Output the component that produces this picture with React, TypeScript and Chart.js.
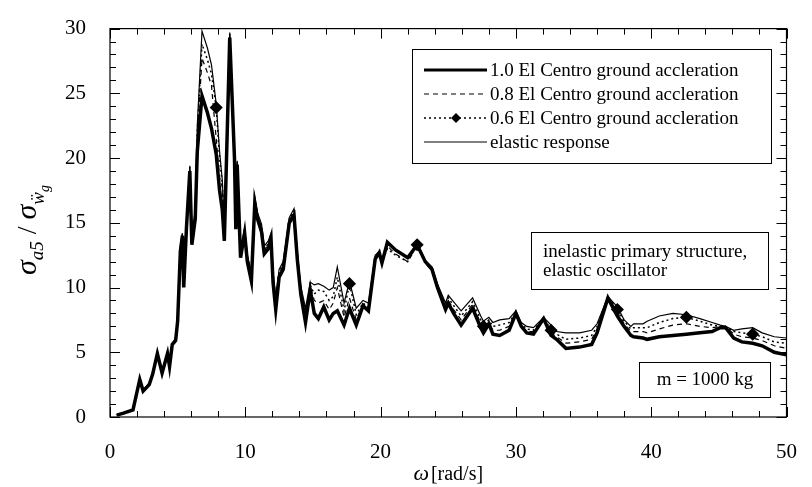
import React, { useEffect, useRef } from "react";
import { Chart, registerables } from "chart.js";

Chart.register(...registerables);

const OMEGA = [
  0.5, 1.0, 1.7, 2.2, 2.45, 2.9, 3.15, 3.5, 3.85, 4.25, 4.4, 4.6, 4.85, 5.0, 5.2, 5.35, 5.45, 5.65, 5.9, 6.05,
  6.3, 6.45, 6.8, 7.2, 7.5, 7.85, 8.1, 8.3, 8.45, 8.85, 9.2, 9.3, 9.4, 9.65, 9.95, 10.15, 10.45, 10.7, 10.9, 11.2,
  11.4, 11.7, 11.9, 12.05, 12.25, 12.5, 12.8, 13.25, 13.6, 13.85, 14.1, 14.45, 14.8, 15.1, 15.4, 15.8, 16.2, 16.5, 16.8, 17.3,
  17.7, 18.2, 18.7, 19.1, 19.6, 19.9, 20.1, 20.5, 21.1, 22.0, 22.7, 23.3, 23.8, 24.2, 24.8, 25.0, 25.4, 25.95, 26.8, 27.4,
  27.6, 28.0, 28.3, 28.8, 29.5, 30.0, 30.4, 30.8, 31.3, 32.05, 32.6, 33.0, 33.7, 34.7, 35.6, 36.0, 36.8, 37.5, 38.0, 38.5,
  38.7, 39.4, 39.7, 40.6, 41.6, 42.6, 43.6, 44.5, 45.1, 45.5, 46.1, 46.7, 47.5, 48.2, 49.1, 50.0,
];

const RESP_10 = [
  0.15, 0.3, 0.55, 2.9, 2.0, 2.5, 3.3, 4.9, 3.4, 4.9, 3.9, 5.6, 5.9, 7.4, 12.8, 14.0, 10.0, 14.6, 19.0, 13.3,
  15.3, 20.5, 24.8, 23.5, 22.3, 20.3, 17.5, 16.0, 13.6, 29.3, 20.0, 14.5, 19.5, 12.3, 14.2, 12.0, 10.5, 16.5, 15.3, 14.3,
  12.6, 13.0, 13.8, 10.4, 8.3, 10.8, 11.4, 15.0, 15.6, 12.1, 9.5, 7.3, 9.8, 8.0, 7.6, 8.5, 7.5, 8.0, 8.2, 7.1,
  8.4, 7.1, 8.6, 8.2, 12.2, 12.7, 11.9, 13.5, 12.9, 12.3, 13.3, 12.0, 11.4, 10.0, 8.3, 8.8, 8.0, 7.1, 8.4, 6.9,
  6.5, 7.2, 6.4, 6.3, 6.7, 8.0, 7.0, 6.5, 6.4, 7.6, 6.3, 6.0, 5.3, 5.4, 5.6, 6.5, 9.2, 7.8, 7.0, 6.3,
  6.2, 6.1, 6.0, 6.2, 6.3, 6.4, 6.5, 6.6, 6.9, 6.9, 6.1, 5.8, 5.7, 5.5, 5.0, 4.8,
];

const RESP_08 = [
  0.15, 0.3, 0.55, 2.9, 2.1, 2.6, 3.3, 4.9, 3.5, 4.9, 4.0, 5.6, 6.0, 7.5, 13.0, 14.1, 10.3, 14.8, 19.2, 13.6,
  15.6, 21.5, 27.7, 26.6, 25.6, 21.5, 18.5, 17.8, 14.0, 29.5, 20.1, 14.7, 19.6, 12.5, 14.4, 12.3, 10.8, 16.8, 15.5, 14.6,
  12.9, 13.3, 14.0, 10.8, 8.8, 11.1, 11.7, 15.2, 15.8, 12.4, 9.8, 7.8, 10.1, 9.0, 8.8, 9.0, 8.3, 8.8, 10.0, 7.7,
  9.2, 7.5, 8.7, 8.4, 12.3, 12.6, 11.8, 13.2, 12.6, 12.0, 13.2, 11.9, 11.3, 10.1, 8.5, 9.0, 8.3, 7.5, 8.7, 7.2,
  6.8, 7.3, 6.7, 6.7, 7.0, 8.1, 7.1, 6.6, 6.6, 7.6, 6.5, 6.2, 5.7, 5.8, 6.0, 6.8, 9.3, 8.1, 7.2, 6.6,
  6.6, 6.6, 6.5, 6.8, 7.1, 7.2, 7.0, 6.9, 7.0, 7.0, 6.4, 6.2, 6.1, 5.9, 5.5, 5.3,
];

const RESP_06 = [
  0.15, 0.3, 0.55, 2.9, 2.1, 2.6, 3.3, 4.9, 3.5, 4.9, 4.0, 5.6, 6.0, 7.5, 13.0, 14.1, 10.3, 14.8, 19.3, 13.8,
  15.8, 22.0, 28.8, 27.6, 26.5, 23.9, 20.0, 18.0, 14.5, 29.6, 20.2, 14.8, 19.7, 12.6, 14.5, 12.4, 11.0, 16.9, 15.6, 14.7,
  13.0, 13.4, 14.1, 11.0, 9.0, 11.2, 11.8, 15.3, 15.9, 12.5, 9.9, 8.1, 10.2, 9.5, 9.8, 9.7, 9.0, 9.3, 10.8, 8.2,
  10.3, 7.9, 8.8, 8.5, 12.4, 12.6, 11.9, 13.0, 12.5, 12.0, 13.3, 12.0, 11.4, 10.1, 8.6, 9.2, 8.6, 7.8, 8.9, 7.5,
  7.0, 7.5, 7.0, 7.1, 7.3, 8.1, 7.2, 6.8, 6.7, 7.7, 6.7, 6.4, 6.0, 6.1, 6.3, 7.0, 9.3, 8.3, 7.4, 6.8,
  6.9, 6.9, 6.9, 7.3, 7.6, 7.7, 7.4, 7.1, 7.0, 7.0, 6.6, 6.5, 6.4, 6.2, 5.8, 5.7,
];

const RESP_ELASTIC = [
  0.15, 0.3, 0.55, 3.0, 2.1, 2.6, 3.4, 5.0, 3.5, 5.0, 4.0, 5.7, 6.1, 7.6, 13.2, 14.2, 10.5, 15.0, 19.4, 14.0,
  16.0, 22.5, 29.8, 28.5, 27.2, 24.2, 20.5, 18.3, 15.0, 29.7, 20.3, 15.0, 19.8, 12.8, 14.6, 12.5, 11.2, 17.1, 15.8, 14.9,
  13.2, 13.6, 14.2, 11.2, 9.3, 11.4, 12.0, 15.4, 16.1, 12.7, 10.1, 8.4, 10.4, 10.2, 10.3, 10.1, 9.8, 10.0, 11.6, 8.8,
  10.5, 8.4, 9.0, 8.8, 12.5, 12.8, 12.1, 13.5, 12.9, 12.3, 13.4, 12.1, 11.6, 10.3, 8.8, 9.4, 8.9, 8.2, 9.2, 7.8,
  7.4, 7.7, 7.3, 7.5, 7.6, 8.2, 7.3, 7.0, 6.9, 7.7, 7.1, 6.6, 6.5, 6.5, 6.7, 7.2, 9.3, 8.5, 7.5, 7.0,
  7.2, 7.2, 7.4, 7.8, 8.0, 7.9, 7.6, 7.3, 7.1, 7.0, 6.7, 6.8, 6.9, 6.5, 6.2, 6.1,
];

const MARKER_OMEGA = [7.85, 17.7, 22.7, 27.6, 32.6, 37.5, 42.6, 47.5];

const LEGEND_LABELS = [
  "1.0 El Centro ground accleration",
  "0.8 El Centro ground accleration",
  "0.6 El Centro ground accleration",
  "elastic response",
];
const NOTE_LINES = ["inelastic primary structure,", "elastic oscillator"];
const MASS_NOTE = "m = 1000 kg";

const SERIF = "'Liberation Serif', 'Times New Roman', serif";

const toPts = (ys: number[]) => OMEGA.map((x, i) => ({ x, y: ys[i] }));

const decorPlugin = {
  id: "decor",
  afterDraw(chart: any) {
    const { ctx, chartArea } = chart;
    const { left, right, top, bottom } = chartArea;
    const xs = chart.scales.x;
    const ys = chart.scales.y;
    ctx.save();
    ctx.strokeStyle = "#000";
    ctx.fillStyle = "#000";
    ctx.lineWidth = 1.2;
    ctx.setLineDash([]);
    ctx.strokeRect(left, top, right - left, bottom - top);
    // inward ticks
    ctx.lineWidth = 1;
    ctx.beginPath();
    for (let v = 0; v <= 50; v += 2) {
      const px = Math.round(xs.getPixelForValue(v)) + 0.5;
      const len = v % 10 === 0 ? 10 : 6;
      ctx.moveTo(px, bottom);
      ctx.lineTo(px, bottom - len);
      ctx.moveTo(px, top);
      ctx.lineTo(px, top + len);
    }
    for (let v = 0; v <= 30; v += 1) {
      const py = Math.round(ys.getPixelForValue(v)) + 0.5;
      const len = v % 5 === 0 ? 10 : 6;
      ctx.moveTo(left, py);
      ctx.lineTo(left + len, py);
      ctx.moveTo(right, py);
      ctx.lineTo(right - len, py);
    }
    ctx.stroke();

    // legend box
    const lx0 = 412, ly0 = 49, lx1 = 771, ly1 = 163;
    ctx.fillStyle = "#fff";
    ctx.fillRect(lx0, ly0, lx1 - lx0, ly1 - ly0);
    ctx.fillStyle = "#000";
    ctx.lineWidth = 1;
    ctx.strokeRect(lx0 + 0.5, ly0 + 0.5, lx1 - lx0, ly1 - ly0);
    const rows = [70, 94, 118, 142];
    const styles = [
      { w: 3, dash: [] as number[] },
      { w: 1.2, dash: [5, 4] },
      { w: 1.5, dash: [2, 3] },
      { w: 1.2, dash: [] as number[] },
    ];
    ctx.font = `19px ${SERIF}`;
    ctx.textBaseline = "middle";
    ctx.textAlign = "left";
    rows.forEach((ry, i) => {
      ctx.beginPath();
      ctx.lineWidth = styles[i].w;
      ctx.setLineDash(styles[i].dash);
      ctx.moveTo(424, ry);
      ctx.lineTo(487, ry);
      ctx.stroke();
      ctx.setLineDash([]);
      if (i === 2) {
        ctx.beginPath();
        ctx.moveTo(456, ry - 5);
        ctx.lineTo(461, ry);
        ctx.lineTo(456, ry + 5);
        ctx.lineTo(451, ry);
        ctx.closePath();
        ctx.fill();
      }
      ctx.fillText(LEGEND_LABELS[i], 490, ry + 1);
    });

    // note box
    ctx.lineWidth = 1;
    ctx.fillStyle = "#fff";
    ctx.fillRect(531, 232, 237, 57);
    ctx.fillStyle = "#000";
    ctx.strokeRect(531.5, 232.5, 237, 57);
    ctx.fillText(NOTE_LINES[0], 543, 252);
    ctx.fillText(NOTE_LINES[1], 543, 271);

    // mass box
    ctx.fillStyle = "#fff";
    ctx.fillRect(639, 362, 131, 35);
    ctx.fillStyle = "#000";
    ctx.strokeRect(639.5, 362.5, 131, 35);
    ctx.textAlign = "center";
    ctx.fillText(MASS_NOTE, 705, 380);

    // x title
    ctx.textAlign = "left";
    ctx.textBaseline = "alphabetic";
    const big = `italic 22px ${SERIF}`;
    const reg = `20px ${SERIF}`;
    ctx.font = big;
    const wO = ctx.measureText("ω").width;
    ctx.font = reg;
    const wR = ctx.measureText("[rad/s]").width;
    const xt = (left + right) / 2 - (wO + 2 + wR) / 2;
    ctx.font = big;
    ctx.fillText("ω", xt, 480);
    ctx.font = reg;
    ctx.fillText("[rad/s]", xt + wO + 2, 480);

    // y title (rotated)
    ctx.save();
    ctx.translate(36, 230);
    ctx.rotate(-Math.PI / 2);
    const parts = [
      { t: "σ", f: `italic 30px ${SERIF}`, dy: 0 },
      { t: "a5", f: `italic 19px ${SERIF}`, dy: 7 },
      { t: " / ", f: `28px ${SERIF}`, dy: 0 },
      { t: "σ", f: `italic 30px ${SERIF}`, dy: 0 },
      { t: "ẅ", f: `italic 19px ${SERIF}`, dy: 8 },
      { t: "g", f: `italic 14px ${SERIF}`, dy: 13 },
    ];
    let total = 0;
    const widths = parts.map((p) => {
      ctx.font = p.f;
      const w = ctx.measureText(p.t).width;
      total += w;
      return w;
    });
    let cx = -total / 2;
    parts.forEach((p, i) => {
      ctx.font = p.f;
      ctx.fillText(p.t, cx, p.dy);
      cx += widths[i];
    });
    ctx.restore();
    ctx.restore();
  },
};

export default function App() {
  const ref = useRef<HTMLCanvasElement | null>(null);
  useEffect(() => {
    document.body.style.margin = "0";
    const canvas = ref.current;
    if (!canvas) return;
    const markerRadius = OMEGA.map((w) => (MARKER_OMEGA.includes(w) ? 5.5 : 0));
    const chart = new Chart(canvas, {
      type: "line",
      data: {
        datasets: [
          {
            label: LEGEND_LABELS[3],
            data: toPts(RESP_ELASTIC),
            borderColor: "#000",
            borderWidth: 1.2,
            pointRadius: 0,
            tension: 0,
          },
          {
            label: LEGEND_LABELS[1],
            data: toPts(RESP_08),
            borderColor: "#000",
            borderWidth: 1.2,
            borderDash: [5, 4],
            pointRadius: 0,
            tension: 0,
          },
          {
            label: LEGEND_LABELS[2],
            data: toPts(RESP_06),
            borderColor: "#000",
            borderWidth: 1.5,
            borderDash: [2, 3],
            pointRadius: markerRadius,
            pointStyle: "rectRot",
            pointBackgroundColor: "#000",
            pointBorderColor: "#000",
            tension: 0,
          },
          {
            label: LEGEND_LABELS[0],
            data: toPts(RESP_10),
            borderColor: "#000",
            borderWidth: 3.5,
            pointRadius: 0,
            tension: 0,
          },
        ],
      },
      options: {
        responsive: false,
        animation: false,
        devicePixelRatio: 1,
        layout: { padding: { left: 0, right: 15, top: 23, bottom: 0 } },
        plugins: { legend: { display: false }, tooltip: { enabled: false } },
        scales: {
          x: {
            type: "linear",
            min: 0,
            max: 50,
            grid: { display: false },
            border: { display: false },
            ticks: {
              stepSize: 10,
              color: "#000",
              font: { family: SERIF, size: 21 },
              padding: 15,
              maxRotation: 0,
            },
            afterFit: (s: any) => {
              s.height = 70;
            },
          },
          y: {
            min: 0,
            max: 30,
            grid: { display: false },
            border: { display: false },
            ticks: {
              stepSize: 5,
              color: "#000",
              font: { family: SERIF, size: 21 },
              padding: 16,
            },
            afterFit: (s: any) => {
              s.width = 110;
            },
          },
        },
      },
      plugins: [decorPlugin],
    });
    return () => chart.destroy();
  }, []);
  return (
    <div style={{ width: 812, height: 487 }}>
      <canvas ref={ref} width={812} height={487} />
    </div>
  );
}
